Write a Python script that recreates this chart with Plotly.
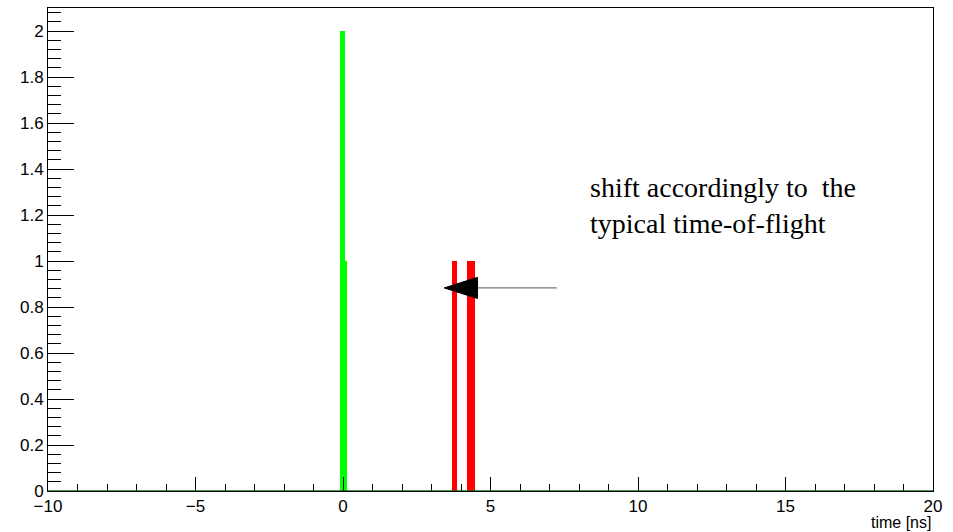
import plotly.graph_objects as go

# ---- data ----
green_centers = [-0.02, 0.10]
green_widths = [0.17, 0.07]
green_counts = [2, 1]

red_centers = [3.785, 4.33]
red_widths = [0.17, 0.26]
red_counts = [1, 1]

x_range = [-10, 20]
y_range = [0, 2.1]

# arrow annotation (data coordinates)
arrow_tail = (7.245, 0.883)
arrow_tip = (3.43, 0.883)
arrow_base_x = 4.56
arrow_half_h = 0.046

note_text = "shift accordingly to  the<br>typical time-of-flight"
note_pos = (8.31, 1.24)

fig = go.Figure()
fig.add_trace(go.Bar(x=red_centers, y=red_counts, width=red_widths,
                     marker=dict(color="#ff0000", line=dict(width=0)), showlegend=False))
fig.add_trace(go.Bar(x=green_centers, y=green_counts, width=green_widths,
                     marker=dict(color="#00ff00", line=dict(width=0)), showlegend=False))

# baseline of the histogram along y=0
fig.add_shape(type="line", xref="paper", yref="y", x0=0, x1=1, y0=0, y1=0,
              line=dict(color="#0b6b0b", width=1.5), layer="above")

# arrow line and head
fig.add_shape(type="line", xref="x", yref="y",
              x0=arrow_base_x, y0=arrow_tail[1], x1=arrow_tail[0], y1=arrow_tail[1],
              line=dict(color="#555555", width=1))
fig.add_shape(type="path", xref="x", yref="y",
              path=f"M {arrow_tip[0]} {arrow_tip[1]} L {arrow_base_x} {arrow_tip[1]+arrow_half_h} "
                   f"L {arrow_base_x} {arrow_tip[1]-arrow_half_h} Z",
              fillcolor="black", line=dict(color="black", width=1))

fig.add_annotation(x=note_pos[0], y=note_pos[1], xref="x", yref="y", text=note_text,
                   showarrow=False, xanchor="left", yanchor="middle", align="left",
                   font=dict(family="Liberation Serif", size=28, color="black"))

fig.add_annotation(x=1, y=-0.066, xref="paper", yref="paper", text="time [ns]",
                   showarrow=False, xanchor="right", yanchor="middle",
                   font=dict(family="Liberation Sans", size=16, color="black"))

fig.update_layout(
    width=953, height=532,
    margin=dict(l=48, r=20, t=8, b=41),
    paper_bgcolor="white", plot_bgcolor="white",
    barmode="overlay", bargap=0,
    font=dict(family="Liberation Sans", size=17, color="black"),
    xaxis=dict(range=x_range, showgrid=False, zeroline=False,
               showline=True, linecolor="black", linewidth=1, mirror=True,
               ticks="inside", ticklen=14, tickcolor="black", tickwidth=1,
               tick0=-10, dtick=5,
               minor=dict(ticks="inside", ticklen=7, dtick=1, tick0=-10, tickcolor="black", showgrid=False),
               tickfont=dict(family="Liberation Sans", size=17)),
    yaxis=dict(range=y_range, showgrid=False, zeroline=False,
               showline=True, linecolor="black", linewidth=1, mirror=True,
               ticks="inside", ticklen=26, tickcolor="black", tickwidth=1,
               tick0=0, dtick=0.2, tickformat="~g",
               minor=dict(ticks="inside", ticklen=13, dtick=0.04, tick0=0, tickcolor="black", showgrid=False),
               tickfont=dict(family="Liberation Sans", size=17)),
)

fig.write_html("out.html")
